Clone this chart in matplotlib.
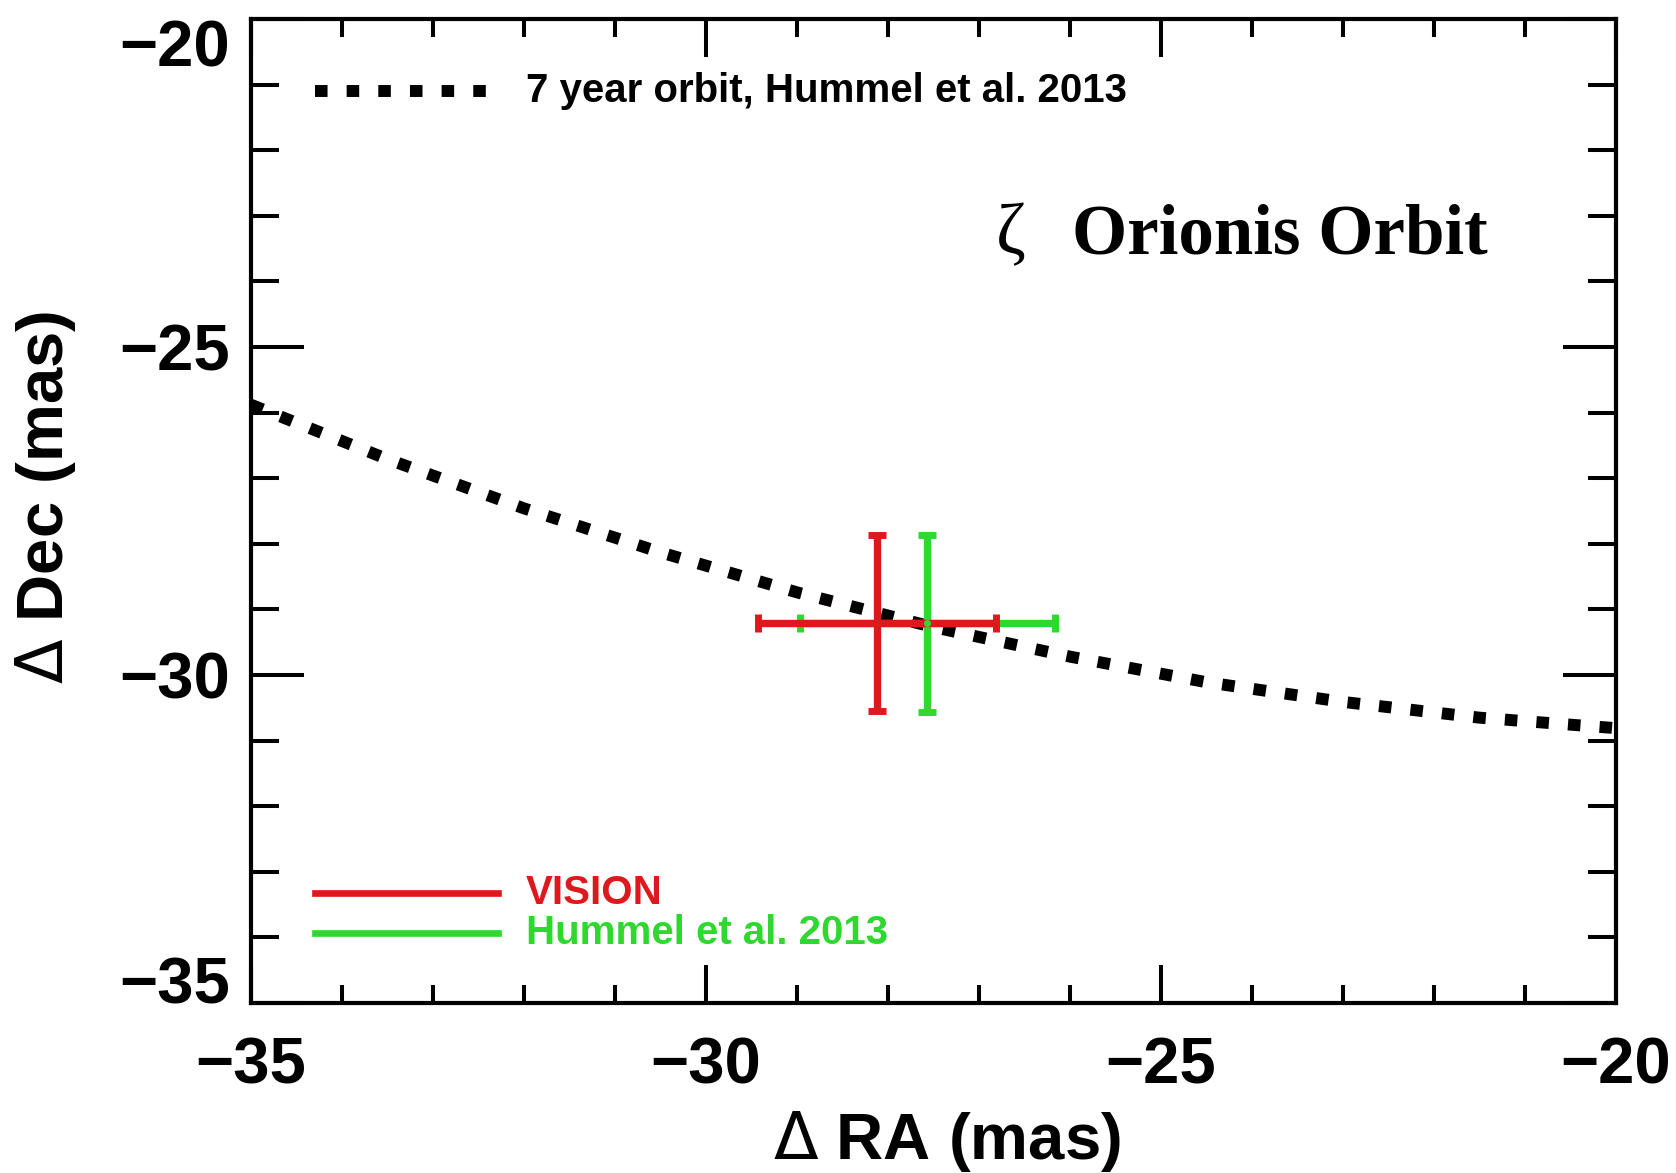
import numpy as np
import matplotlib
matplotlib.use('Agg')
import matplotlib.pyplot as plt
from matplotlib.ticker import MultipleLocator

# orbit track (7 yr solution), offsets in mas
orbit_ra = [-35.0, -33.5, -32.0, -30.5, -29.0, -27.5, -26.0, -24.5, -23.0, -21.5, -20.0]
orbit_dec = [-25.88, -26.71, -27.46, -28.13, -28.74, -29.27, -29.72, -30.11, -30.41, -30.65, -30.81]

# measured positions
vision_ra, vision_dec = -28.12, -29.21
vision_ra_err, vision_dec_err = 1.31, 1.34
hummel_ra, hummel_dec = -27.57, -29.21
hummel_ra_err, hummel_dec_err = 1.40, 1.35

red = '#dc1a1e'
green = '#2ed82e'
sans = 'Liberation Sans'
serif = 'Liberation Serif'

plt.rcParams['font.family'] = [sans, 'DejaVu Sans']
plt.rcParams['mathtext.fontset'] = 'dejavusans'

fig = plt.figure(figsize=(16.76, 11.73), dpi=100)
ax = fig.add_axes([0.1498, 0.1449, 0.8144, 0.8389])

ax.plot(orbit_ra, orbit_dec, color='black', lw=8.6, linestyle=(0, (1.05, 1.6)),
        dash_capstyle='butt')

ax.errorbar(hummel_ra, hummel_dec, xerr=hummel_ra_err, yerr=hummel_dec_err,
            fmt='o', ms=4, color=green, elinewidth=5.3, capsize=6.5, capthick=5)
ax.errorbar(vision_ra, vision_dec, xerr=vision_ra_err, yerr=vision_dec_err,
            fmt='o', ms=5, color=red, elinewidth=5.3, capsize=6.5, capthick=5)

ax.set_xlim(-35, -20)
ax.set_ylim(-35, -20)
ax.xaxis.set_major_locator(MultipleLocator(5))
ax.xaxis.set_minor_locator(MultipleLocator(1))
ax.yaxis.set_major_locator(MultipleLocator(5))
ax.yaxis.set_minor_locator(MultipleLocator(1))

for s in ax.spines.values():
    s.set_linewidth(3)
ax.tick_params(which='both', direction='in', top=True, right=True, width=2.9)
ax.tick_params(axis='x', which='major', length=27.4, pad=24, labelsize=47)
ax.tick_params(axis='x', which='minor', length=13)
ax.tick_params(axis='y', which='major', length=38, pad=15, labelsize=47)
ax.tick_params(axis='y', which='minor', length=20)
for lab in ax.get_xticklabels() + ax.get_yticklabels():
    lab.set_fontweight('bold')

# keep the end labels on the y axis inside the frame
yticks = ax.yaxis.get_major_ticks()
for t, loc in zip(yticks, ax.get_yticks()):
    if loc == -20:
        t.label1.set_verticalalignment('top')
    elif loc == -35:
        t.label1.set_verticalalignment('baseline')

ax.set_xlabel(r'$\Delta$ RA (mas)', fontsize=47, fontweight='bold')
ax.set_ylabel(r'$\Delta$ Dec (mas)', fontsize=47, fontweight='bold')
ax.xaxis.set_label_coords(0.51, -0.108)
ax.yaxis.set_label_coords(-0.127, 0.514)

# key for the orbit
ax.plot([0.0469, 0.1766], [0.9268, 0.9268], transform=ax.transAxes, color='black',
        lw=8.6, linestyle=(0, (1.05, 1.6)), dash_capstyle='butt')
ax.text(0.2015, 0.9268, '7 year orbit, Hummel et al. 2013', transform=ax.transAxes,
        fontsize=29, fontweight='bold', va='center', ha='left')

# key for the measurements
ax.plot([0.0469, 0.181], [0.1118, 0.1118], transform=ax.transAxes, color=red, lw=4.8)
ax.plot([0.0469, 0.181], [0.0711, 0.0711], transform=ax.transAxes, color=green, lw=4.8)
ax.text(0.2015, 0.1118, 'VISION', transform=ax.transAxes, color=red,
        fontsize=29, fontweight='bold', va='center', ha='left')
ax.text(0.2015, 0.0711, 'Hummel et al. 2013', transform=ax.transAxes, color=green,
        fontsize=29, fontweight='bold', va='center', ha='left')

ax.text(0.546, 0.7795, 'ζ', transform=ax.transAxes, family=serif,
        fontsize=52, va='center', ha='left')
ax.text(0.6015, 0.7795, 'Orionis Orbit', transform=ax.transAxes, family=serif,
        fontsize=51, fontweight='bold', va='center', ha='left')

plt.savefig('out.png', dpi=100)
